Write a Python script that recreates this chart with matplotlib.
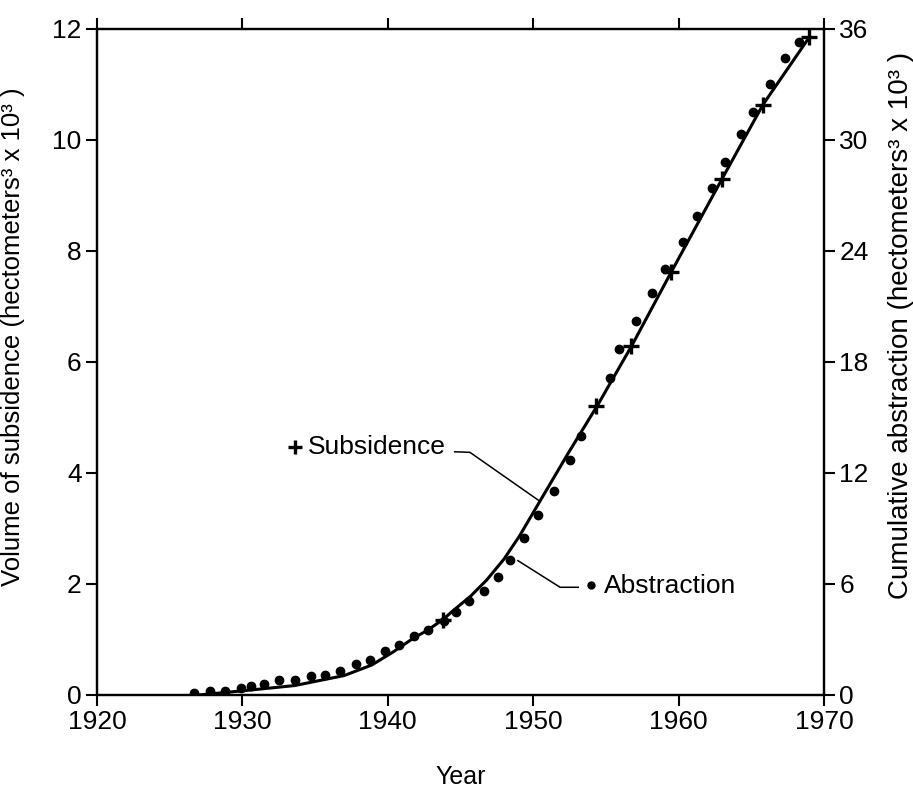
import numpy as np
import matplotlib
matplotlib.use("Agg")
import matplotlib.pyplot as plt

plt.rcParams['font.family'] = ['Liberation Sans', 'DejaVu Sans']

# Cumulative abstraction (hectometers^3 x 10^3)
abstraction_years = [1926.7, 1927.8, 1928.8, 1929.9, 1930.6, 1931.5, 1932.5, 1933.6, 1934.7,
                     1935.7, 1936.7, 1937.8, 1938.8, 1939.8, 1940.8, 1941.8, 1942.8, 1943.9,
                     1944.7, 1945.6, 1946.6, 1947.6, 1948.4, 1949.4, 1950.3, 1951.4, 1952.5,
                     1953.3, 1955.3, 1955.9, 1957.1, 1958.2, 1959.1, 1960.3, 1961.3, 1962.3,
                     1963.2, 1964.3, 1965.1, 1966.3, 1967.3, 1968.3]
abstraction_values = [0.1, 0.2, 0.2, 0.4, 0.5, 0.6, 0.8, 0.8, 1.0,
                      1.1, 1.3, 1.7, 1.9, 2.4, 2.7, 3.2, 3.5, 4.0,
                      4.5, 5.1, 5.6, 6.4, 7.3, 8.5, 9.7, 11.0, 12.7,
                      14.0, 17.1, 18.7, 20.2, 21.7, 23.0, 24.5, 25.9, 27.4,
                      28.8, 30.3, 31.5, 33.0, 34.4, 35.3]

# Volume of subsidence curve (left axis, hectometers^3 x 10^3)
curve_years = [1927.0, 1930.2, 1933.6, 1937.0, 1938.9, 1940.4, 1941.8, 1942.7, 1943.8,
               1944.5, 1945.7, 1946.8, 1948.0, 1949.05, 1950.6, 1952.4, 1954.5, 1956.8,
               1959.5, 1963.0, 1965.8, 1969.0]
curve_values = [0.0, 0.08, 0.17, 0.35, 0.54, 0.78, 1.03, 1.16, 1.36,
                1.52, 1.78, 2.07, 2.45, 2.86, 3.55, 4.35, 5.25, 6.30,
                7.62, 9.30, 10.63, 11.85]

# Measured subsidence points (plus markers)
subsidence_years = [1943.8, 1954.3, 1956.75, 1959.5, 1963.0, 1965.8, 1969.0]
subsidence_values = [1.35, 5.20, 6.29, 7.62, 9.30, 10.63, 11.85]

x_ticks = [1920, 1930, 1940, 1950, 1960, 1970]
left_ticks = [0, 2, 4, 6, 8, 10, 12]
right_ticks = [0, 6, 12, 18, 24, 30, 36]

fig = plt.figure(figsize=(9.13, 7.94), dpi=100)
ax = fig.add_axes([0.1062, 0.1247, 0.7963, 0.8392])
ax2 = ax.twinx()

ax.plot(curve_years, curve_values, color='black', lw=2.2, zorder=3)
ax.plot(subsidence_years, subsidence_values, ls='none', marker='+', ms=12, mew=2.4,
        color='black', zorder=4)
ax2.plot(abstraction_years, abstraction_values, ls='none', marker='o', ms=6,
         color='black', zorder=4)

ax.set_xlim(1920, 1970)
ax.set_ylim(0, 12)
ax2.set_ylim(0, 36)
ax.set_xticks(x_ticks)
ax.set_yticks(left_ticks)
ax2.set_yticks(right_ticks)

for spine in list(ax.spines.values()) + list(ax2.spines.values()):
    spine.set_linewidth(1.6)

ax.tick_params(axis='both', direction='out', length=8, width=1.5, labelsize=19,
               top=True, pad=3)
ax2.tick_params(axis='y', direction='out', length=8, width=1.5, labelsize=19, pad=3)

ax.set_xlabel('Year', fontsize=18, labelpad=22)
ax.set_ylabel('Volume of subsidence (hectometers³ x 10³ )', fontsize=18.5)
ax2.set_ylabel('Cumulative abstraction (hectometers³ x 10³ )', fontsize=20)
ax.yaxis.set_label_coords(-0.099, 0.537)
ax2.yaxis.set_label_coords(1.088, 0.554)

# Labels with leader lines
ax.plot([1933.6], [4.46], marker='+', ms=10, mew=2.4, color='black')
ax.text(1934.5, 4.46, 'Subsidence', fontsize=19, va='center', ha='left')
ax.plot([1944.6, 1945.65, 1950.4], [4.38, 4.37, 3.50], color='black', lw=1.1)

ax.plot([1948.95, 1951.85, 1953.1], [2.42, 1.94, 1.94], color='black', lw=1.1)
ax.plot([1954.0], [1.98], marker='o', ms=5, color='black')
ax.text(1954.9, 1.97, 'Abstraction', fontsize=19, va='center', ha='left')

fig.savefig('out.png', dpi=100)
